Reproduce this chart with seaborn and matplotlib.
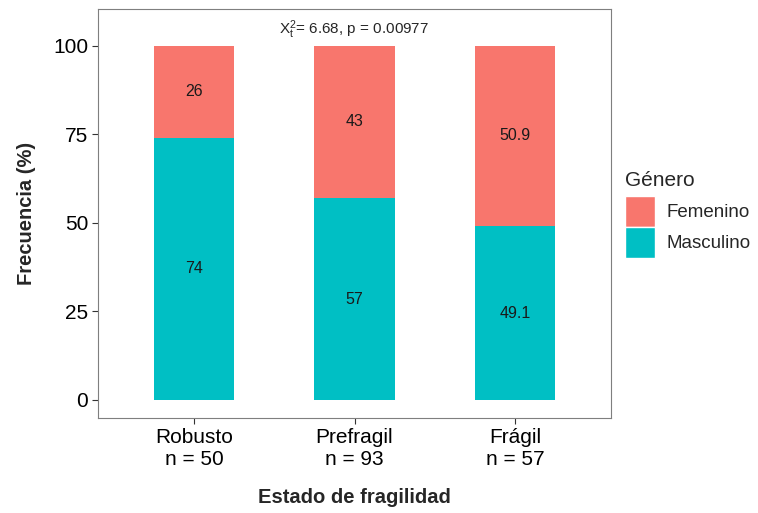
import numpy as np
import pandas as pd
import matplotlib
matplotlib.use("Agg")
import matplotlib.pyplot as plt
import seaborn as sns
from matplotlib.patches import Patch

# Data
categorias = ["Robusto\nn = 50", "Prefragil\nn = 93", "Frágil\nn = 57"]
masculino = [74, 57, 49.1]
femenino = [26, 43, 50.9]
etiq_masc = ["74", "57", "49.1"]
etiq_fem = ["26", "43", "50.9"]

col_fem = "#F8766D"
col_masc = "#00BFC4"

sns.set_theme(style="white")
plt.rcParams["font.family"] = ["Liberation Sans", "DejaVu Sans"]
plt.rcParams["mathtext.fontset"] = "custom"
plt.rcParams["mathtext.rm"] = "Liberation Sans"
plt.rcParams["mathtext.it"] = "Liberation Sans"

df = pd.DataFrame({"estado": categorias, "masc": masculino,
                   "total": np.array(masculino) + np.array(femenino)})

fig = plt.figure(figsize=(7.58, 5.13), dpi=100)
ax = fig.add_axes([98 / 758, 95 / 513, 513 / 758, 409 / 513])

# stacked: total in Femenino colour, Masculino on top from 0
sns.barplot(data=df, x="estado", y="total", color=col_fem, width=0.5,
            saturation=1, linewidth=0, edgecolor="none", ax=ax)
sns.barplot(data=df, x="estado", y="masc", color=col_masc, width=0.5,
            saturation=1, linewidth=0, edgecolor="none", ax=ax)

for i in range(len(categorias)):
    ax.text(i, masculino[i] / 2, etiq_masc[i], ha="center", va="center",
            fontsize=11.5, color="#1a1a1a")
    ax.text(i, masculino[i] + femenino[i] / 2, etiq_fem[i], ha="center",
            va="center", fontsize=11.5, color="#1a1a1a")

ax.set_xlim(-0.6, 2.6)
ax.set_ylim(-5.1, 110.4)
ax.set_yticks([0, 25, 50, 75, 100])
ax.tick_params(axis="both", labelsize=15, colors="#333333", length=4,
               width=0.8, left=True, bottom=True, labelcolor="black", pad=3)
ax.set_xlabel("Estado de fragilidad", fontsize=14.5, fontweight="bold",
              labelpad=14)
ax.set_ylabel("Frecuencia (%)", fontsize=14.5, fontweight="bold", labelpad=12)
for s in ax.spines.values():
    s.set_color("#7f7f7f")
    s.set_linewidth(0.8)

ax.text(1, 104.5, r"$\mathregular{X_t^2}$= 6.68, p = 0.00977", ha="center",
        va="center", fontsize=11)

# legend (title drawn separately to control spacing)
fig.text(625 / 758, 1 - 180 / 513, "Género", fontsize=15, ha="left",
         va="center")
handles = [Patch(facecolor=col_fem, label="Femenino"),
           Patch(facecolor=col_masc, label="Masculino")]
leg = fig.legend(handles=handles, loc="upper left",
                 bbox_to_anchor=(625 / 758, 1 - 196 / 513), frameon=False,
                 fontsize=13.5, handlelength=1.6,
                 handleheight=2.15, handletextpad=0.6, labelspacing=0.0,
                 borderpad=0, borderaxespad=0)

fig.savefig("out.png", dpi=100)
